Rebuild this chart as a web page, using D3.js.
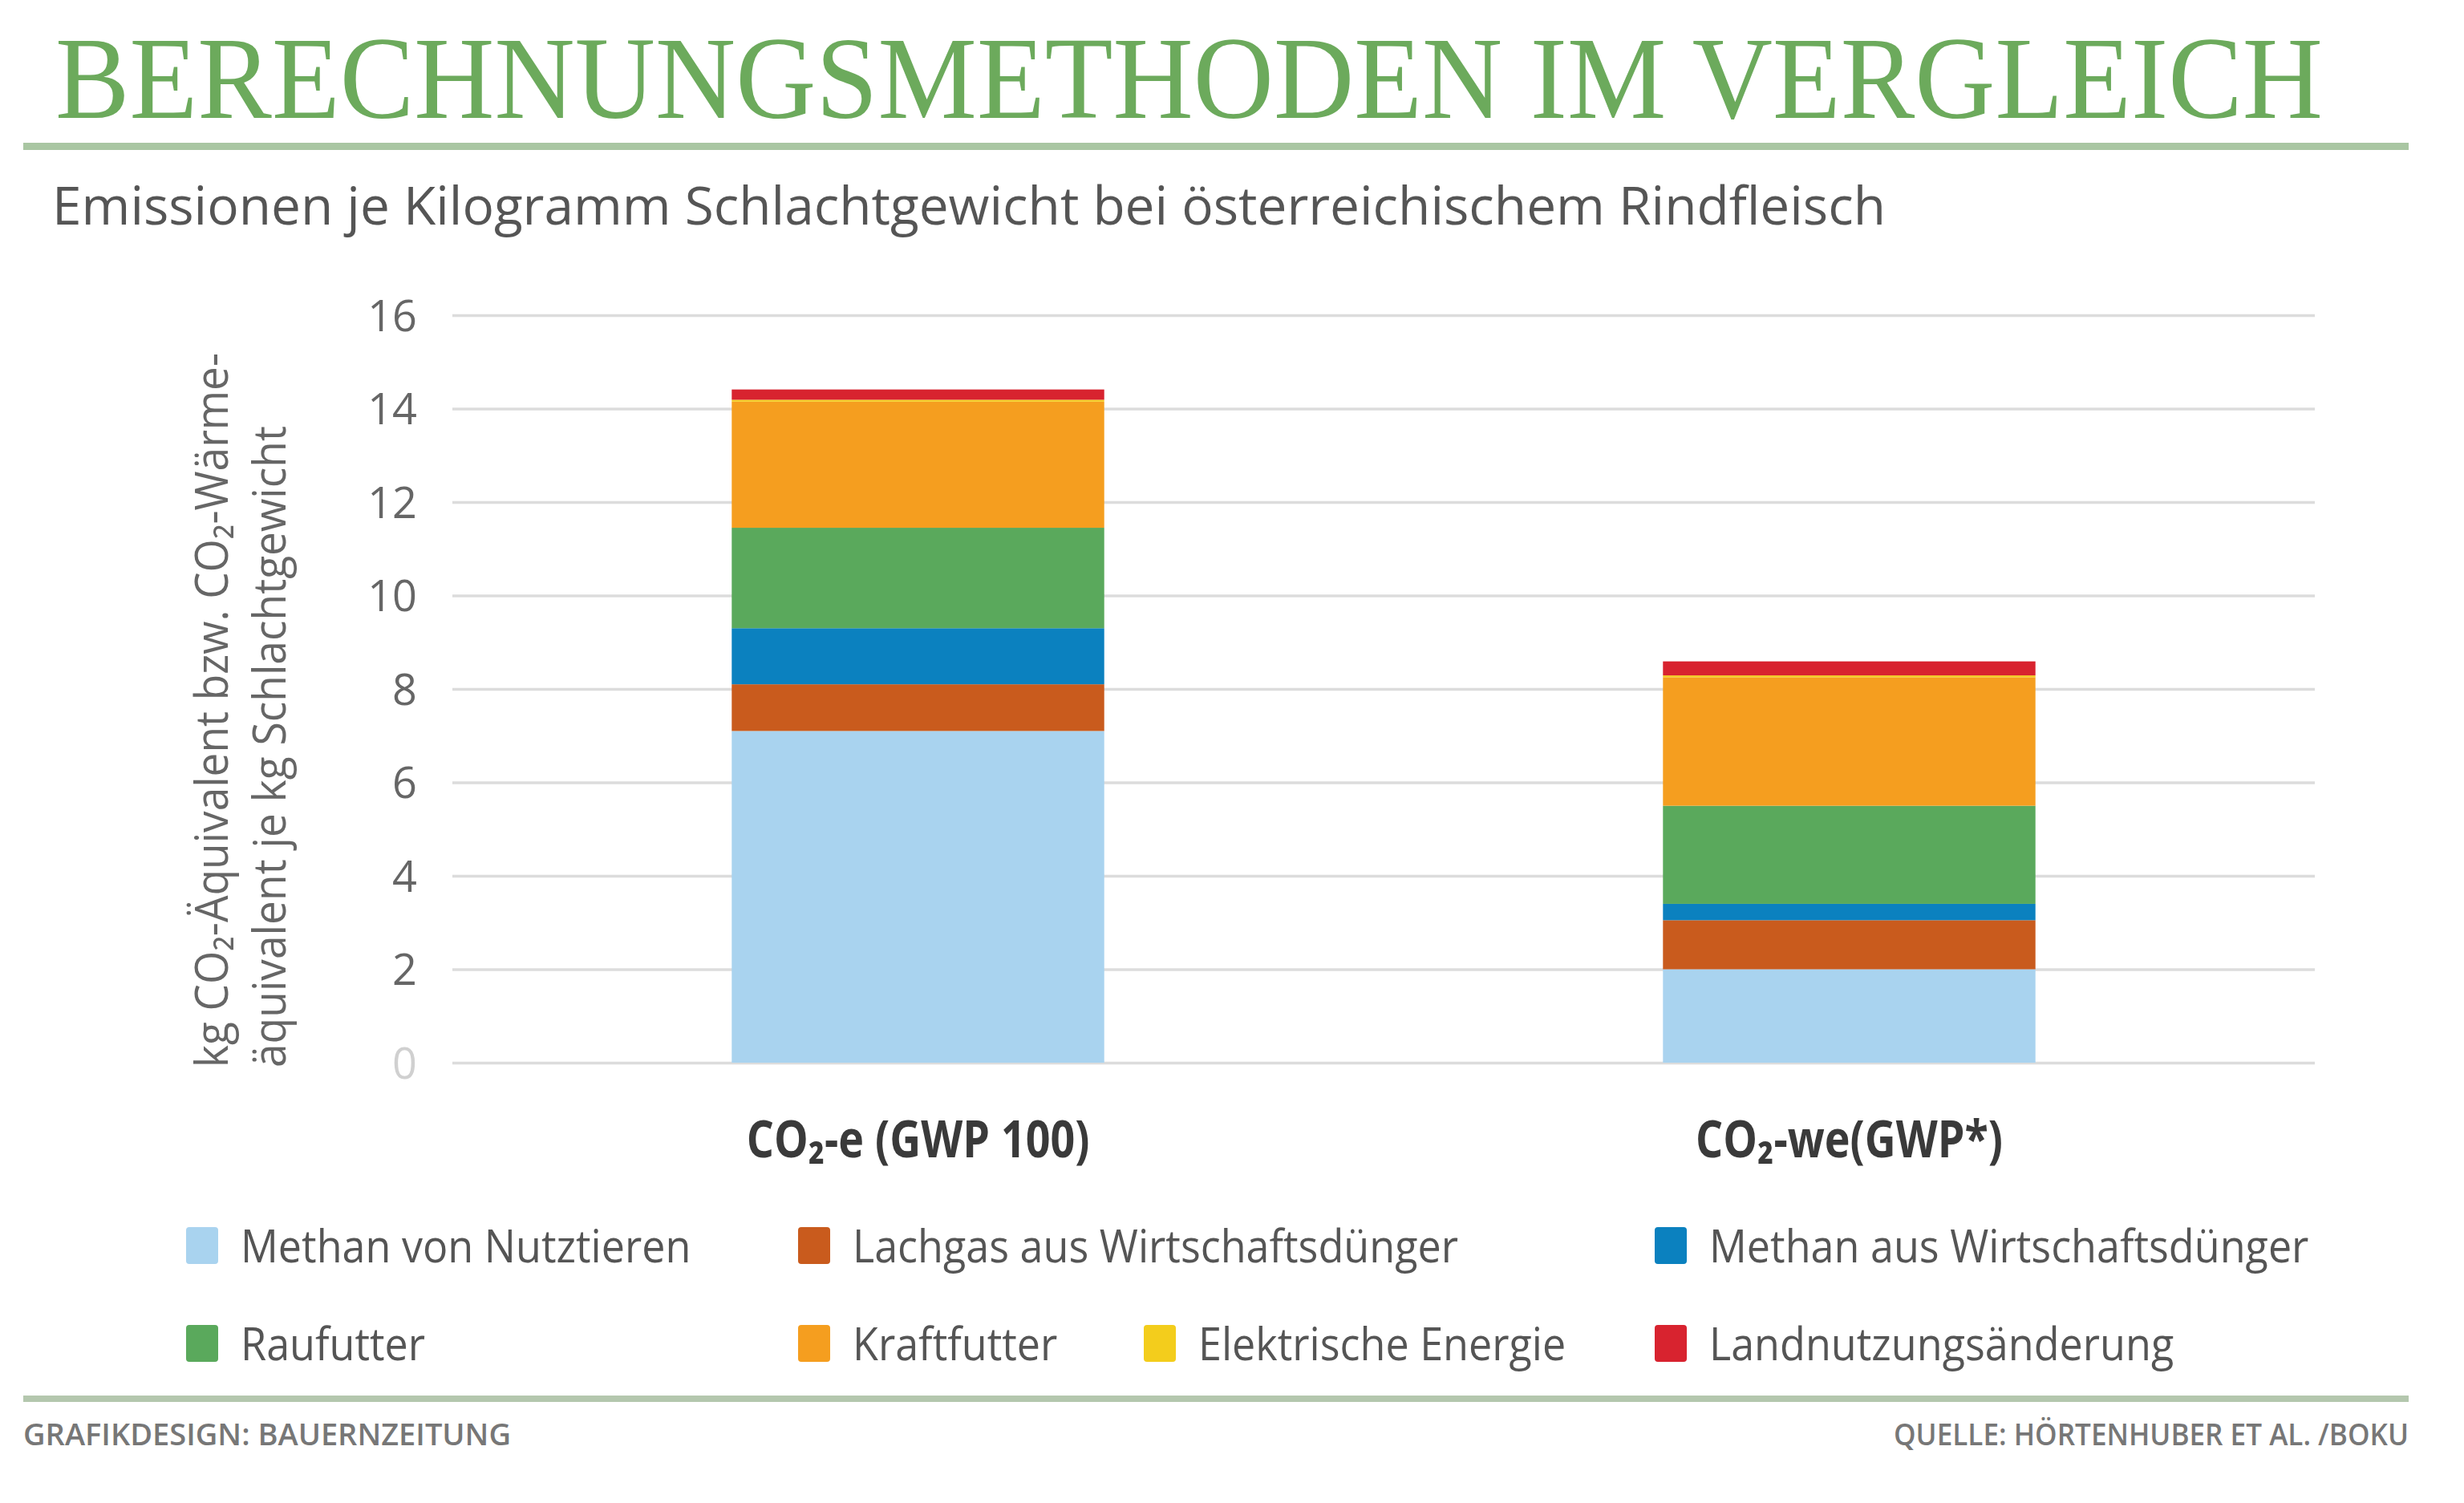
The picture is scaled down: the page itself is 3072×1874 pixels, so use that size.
<!DOCTYPE html>
<html>
<head>
<meta charset="utf-8">
<script src="https://cdn.jsdelivr.net/npm/d3@7"></script>
<style>
  body { margin: 0; background: #fff; }
  svg text { font-family: "Open Sans", "DejaVu Sans", sans-serif; }
</style>
</head>
<body>
<svg id="chart" width="3072" height="1874"></svg>
<script>

// Data
const categories = ["CO₂-e (GWP 100)", "CO₂-we(GWP*)"];
const seriesNames = ["Methan von Nutztieren", "Lachgas aus Wirtschaftsdünger",
                     "Methan aus Wirtschaftsdünger", "Raufutter", "Kraftfutter",
                     "Elektrische Energie", "Landnutzungsänderung"];
const seriesColors = ["#a9d3ef", "#c95b1d", "#0b81bf", "#5aa95c", "#f59e1f", "#f3cd1c", "#d8232f"];
const valuesGWP100  = [7.1, 1.0, 1.2, 2.15, 2.7, 0.04, 0.22];
const valuesGWPstar = [2.0, 1.05, 0.35, 2.1, 2.75, 0.04, 0.3];
const yTicks = [0, 2, 4, 6, 8, 10, 12, 14, 16];

const titleText = "BERECHNUNGSMETHODEN IM VERGLEICH";
const subtitleText = "Emissionen je Kilogramm Schlachtgewicht bei österreichischem Rindfleisch";
const yLabelLines = ["kg CO₂-Äquivalent bzw. CO₂-Wärme-", "äquivalent je kg Schlachtgewicht"];
const footerLeft = "GRAFIKDESIGN: BAUERNZEITUNG";
const footerRight = "QUELLE: HÖRTENHUBER ET AL. /BOKU";

const svg = d3.select("#chart");

// squeeze text horizontally, either by a factor or to a target width
function squeeze(sel, factor) {
	sel.each(function () {
		const w = this.getComputedTextLength();
		d3.select(this).attr("textLength", w * factor).attr("lengthAdjust", "spacingAndGlyphs");
	});
}
function fitTo(sel, width) {
	sel.attr("textLength", width).attr("lengthAdjust", "spacingAndGlyphs");
}

// ---- header ----
svg.append("text")
	.attr("x", 69).attr("y", 147)
	.attr("fill", "#6caa5c")
	.style("font-family", "'Liberation Serif', 'DejaVu Serif', serif")
	.attr("font-size", 146)
	.text(titleText)
	.call(fitTo, 2827);

svg.append("rect")
	.attr("x", 29).attr("y", 178).attr("width", 2974).attr("height", 9)
	.attr("fill", "#a9c6a2");

svg.append("text")
	.attr("x", 65).attr("y", 280)
	.attr("fill", "#555")
	.attr("font-size", 66)
	.text(subtitleText)
	.call(fitTo, 2286);

// ---- scales ----
const x = d3.scaleBand()
	.domain(categories)
	.range([564, 2886])
	.paddingInner(0.6)
	.paddingOuter(0.3);

const y = d3.scaleLinear()
	.domain([0, 16])
	.range([1325, 393]);

// ---- grid + axis ----
const yAxis = d3.axisLeft(y)
	.tickValues(yTicks)
	.tickSize(-(2886 - 564))
	.tickPadding(44);

const gy = svg.append("g")
	.attr("transform", "translate(564,0)")
	.call(yAxis);

gy.select(".domain").remove();
gy.selectAll(".tick line")
	.attr("stroke", "#dcdcdc")
	.attr("stroke-width", 3.5);
gy.selectAll(".tick text")
	.attr("fill", "#666")
	.attr("font-size", 54)
	.style("font-family", "'Open Sans', sans-serif")
	.attr("dy", "0.36em");
gy.selectAll(".tick text").filter(d => d === 0).attr("fill", "#d0d0d0");

// y axis title (two rotated lines)
const yLabelWidths = [891, 800];
yLabelLines.forEach((line, i) => {
	svg.append("text")
		.attr("transform", "translate(" + (284 + i * 72) + ",1331) rotate(-90)")
		.attr("fill", "#666")
		.attr("font-size", 56)
		.text(line)
		.call(fitTo, yLabelWidths[i]);
});

// ---- stacked bars ----
const table = categories.map((c, i) => {
	const vals = i === 0 ? valuesGWP100 : valuesGWPstar;
	const row = { category: c };
	seriesNames.forEach((s, j) => row[s] = vals[j]);
	return row;
});

const stacked = d3.stack().keys(seriesNames)(table);

svg.append("g")
	.selectAll("g")
	.data(stacked)
	.join("g")
		.attr("fill", (d, i) => seriesColors[i])
	.selectAll("rect")
	.data(d => d)
	.join("rect")
		.attr("x", d => x(d.data.category))
		.attr("width", x.bandwidth())
		.attr("y", d => y(d[1]))
		.attr("height", d => y(d[0]) - y(d[1]));

// category labels
svg.append("g")
	.selectAll("text")
	.data(categories)
	.join("text")
		.attr("x", d => x(d) + x.bandwidth() / 2)
		.attr("y", 1443)
		.attr("text-anchor", "middle")
		.attr("fill", "#3a3a3a")
		.attr("font-weight", 700)
		.attr("font-size", 64)
		.text(d => d)
		.call(squeeze, 0.84);

// ---- legend ----
const legendSlots = [
	[232, 1530], [995, 1530], [2063, 1530],
	[232, 1652], [995, 1652], [1426, 1652], [2063, 1652]
];

const legend = svg.append("g")
	.selectAll("g")
	.data(seriesNames)
	.join("g")
		.attr("transform", (d, i) => "translate(" + legendSlots[i][0] + "," + legendSlots[i][1] + ")");

legend.append("rect")
	.attr("width", 40).attr("height", 46).attr("rx", 4)
	.attr("fill", (d, i) => seriesColors[i]);

legend.append("text")
	.attr("x", 68).attr("y", 44)
	.attr("fill", "#555")
	.attr("font-size", 56)
	.text(d => d)
	.call(squeeze, 0.93);

// ---- footer ----
svg.append("rect")
	.attr("x", 29).attr("y", 1740).attr("width", 2974).attr("height", 8)
	.attr("fill", "#b4c7ae");

svg.append("text")
	.attr("x", 29).attr("y", 1802)
	.attr("fill", "#777")
	.attr("font-weight", 600)
	.attr("font-size", 38)
	.text(footerLeft)
	.call(fitTo, 608);

svg.append("text")
	.attr("x", 3003).attr("y", 1802)
	.attr("text-anchor", "end")
	.attr("fill", "#777")
	.attr("font-weight", 600)
	.attr("font-size", 38)
	.text(footerRight)
	.call(fitTo, 642);

</script>
</body>
</html>
